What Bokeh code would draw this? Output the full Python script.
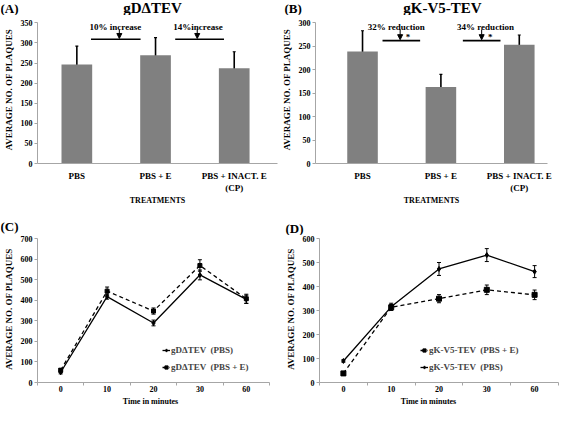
from bokeh.plotting import figure
from bokeh.layouts import column, row
from bokeh.models import (ColumnDataSource, Whisker, TeeHead, Label, Arrow, NormalHead,
                          FixedTicker, Legend, LegendItem, Range1d)
from bokeh.core.properties import value
from bokeh.embed import file_html
from bokeh.resources import INLINE

FONT = "Liberation Serif"
AXIS_GREY = "#a6a6a6"
BAR_GREY = "#808080"

# ---------------- data ----------------
treatments = ["PBS", "PBS + E", "PBS + INACT. E\n(CP)"]
a_mean = [246, 269, 237]
a_err = [46, 44, 41]
b_mean = [239, 163, 253]
b_err = [44, 27, 21]

times = ["0", "10", "20", "30", "60"]
c_pbs = [50, 418, 290, 524, 405]
c_pbs_err = [8, 12, 14, 24, 20]
c_pbse = [60, 445, 348, 570, 408]
c_pbse_err = [8, 20, 15, 28, 22]

d_pbs = [90, 316, 474, 532, 463]
d_pbs_err = [5, 15, 27, 27, 25]
d_pbse = [38, 314, 350, 387, 366]
d_pbse_err = [5, 12, 17, 20, 20]

# ---------------- layout constants (px) ----------------
W_L, W_R = 278, 282
H_STRIP1, H_ROW1, H_STRIP2, H_ROW2, H_STRIP3 = 15, 192, 28, 159, 12


def txt(p, x, y, text, size, align="center", baseline="middle"):
    p.add_layout(Label(x=x, y=y, text=text, text_font=FONT, text_font_style="bold",
                       text_font_size=size, text_align=align, text_baseline=baseline,
                       text_color="black"))


def strip(h):
    w = W_L + W_R
    p = figure(width=w, height=h, x_range=Range1d(0, w), y_range=Range1d(h, 0),
               min_border=0, min_border_left=0, min_border_right=0, min_border_top=0,
               min_border_bottom=0, x_axis_location=None, y_axis_location=None,
               output_backend="svg", toolbar_location=None)
    p.outline_line_color = None
    p.grid.visible = False
    p.background_fill_color = "white"
    p.border_fill_color = "white"
    return p


def make_fig(w, h, left, right, bottom, xr, ymax, gap_top):
    fh = h - bottom
    ytop = ymax + gap_top * ymax / (fh - gap_top)
    p = figure(width=w, height=h, x_range=Range1d(*xr), y_range=Range1d(0, ytop),
               min_border_left=left, min_border_right=right,
               min_border_top=0, min_border_bottom=bottom,
               output_backend="svg", toolbar_location=None)
    p.grid.visible = False
    p.outline_line_color = None
    p.background_fill_color = "white"
    p.border_fill_color = "white"
    for ax in p.axis:
        ax.axis_line_color = AXIS_GREY
        ax.major_tick_line_color = AXIS_GREY
        ax.minor_tick_line_color = None
        ax.major_label_text_font = FONT
        ax.major_label_text_font_style = "bold"
        ax.major_label_text_font_size = "8px"
        ax.major_label_text_color = "black"
        ax.axis_label_text_font = FONT
        ax.axis_label_text_font_style = "bold"
        ax.axis_label_text_font_size = "9px"
        ax.axis_label_text_color = "black"
    p.yaxis.bounds = (0, ymax)
    p.yaxis.major_tick_out = 3
    p.yaxis.major_tick_in = 0
    p.yaxis.major_label_standoff = 2
    p.yaxis.axis_label_standoff = 4
    p.yaxis.axis_label = "AVERAGE NO. OF PLAQUES"
    return p


def bracket(p, x0, x1, y, ax, ay0, ay1, label, tx, ty, star=None):
    p.add_layout(Arrow(end=None, x_start=x0, y_start=y, x_end=x1, y_end=y,
                       line_color="black", line_width=1.6))
    p.add_layout(Arrow(end=NormalHead(size=5, fill_color="black", line_color="black"),
                       x_start=ax, y_start=ay0, x_end=ax, y_end=ay1,
                       line_color="black", line_width=1))
    txt(p, tx, ty, label, "9px", baseline="alphabetic")
    if star is not None:
        txt(p, star[0], star[1], "*", "9px")


def bar_panel(w, left, right, xr, ymax, means, errs):
    p = make_fig(w, H_ROW1, left, right, 42, xr, ymax, 7.4)
    idx = list(range(len(treatments)))
    src = ColumnDataSource(dict(x=idx, top=means,
                                lo=[m - e for m, e in zip(means, errs)],
                                hi=[m + e for m, e in zip(means, errs)]))
    p.vbar(x="x", top="top", width=0.39, source=src, fill_color=BAR_GREY, line_color=None)
    p.add_layout(Whisker(base="x", upper="hi", lower="lo", source=src, line_color="black",
                         line_width=1.6,
                         upper_head=TeeHead(size=3, line_color="black", line_width=1.2),
                         lower_head=TeeHead(size=3, line_color="black", line_width=1.2)))
    p.xaxis.ticker = FixedTicker(ticks=idx)
    p.xaxis.major_label_overrides = {i: t for i, t in zip(idx, treatments)}
    p.xaxis.major_tick_line_color = None
    p.xaxis.major_tick_out = 0
    p.xaxis.major_tick_in = 0
    p.xaxis.major_label_standoff = 7
    p.xaxis.major_label_text_font_size = "9px"
    p.xaxis.axis_label = "TREATMENTS"
    p.xaxis.axis_label_standoff = 0
    p.xaxis.axis_label_text_font_size = "8px"
    p.yaxis.ticker = FixedTicker(ticks=list(range(0, ymax + 1, 50)))
    return p


# ---------------- titles strip ----------------
s1 = strip(H_STRIP1)
txt(s1, 0, 7.5, "(A)", "13px", align="left")
txt(s1, 152, 7.5, "gD\u0394TEV", "15px")
txt(s1, W_L + 6, 7.5, "(B)", "13px", align="left")
txt(s1, 442, 7.5, "gK-V5-TEV", "15px")

# ---------------- panel A ----------------
pA = bar_panel(W_L, 36, 1, (-0.5, 2.55), 350, a_mean, a_err)
bracket(pA, 0.18, 0.81, 309, 0.54, 334, 311, "10% increase", 0.49, 340)
bracket(pA, 1.25, 1.87, 309, 1.53, 334, 311, "14%increase", 1.54, 340)

# ---------------- panel B ----------------
pB = bar_panel(W_R, 37, 13, (-0.6, 2.36), 300, b_mean, b_err)
bracket(pB, 0.255, 0.735, 262, 0.48, 286, 264, "32% reduction", 0.43, 290,
        star=(0.58, 270))
bracket(pB, 1.28, 1.76, 262, 1.52, 286, 264, "34% reduction", 1.57, 290,
        star=(1.63, 270))

# ---------------- letters strip ----------------
s2 = strip(H_STRIP2)
txt(s2, 0, 19, "(C)", "13px", align="left")
txt(s2, W_L + 7, 21, "(D)", "13px", align="left")


# ---------------- line panels ----------------
def series(p, vals, errs, dash, marker, msize):
    idx = list(range(len(times)))
    src = ColumnDataSource(dict(x=idx, y=vals,
                                lo=[v - e for v, e in zip(vals, errs)],
                                hi=[v + e for v, e in zip(vals, errs)]))
    rl = p.line("x", "y", source=src, line_color="black", line_width=1.3, line_dash=dash)
    rs = p.scatter("x", "y", source=src, marker=marker, size=msize,
                   fill_color="black", line_color="black")
    p.add_layout(Whisker(base="x", upper="hi", lower="lo", source=src, line_color="black",
                         line_width=1,
                         upper_head=TeeHead(size=4, line_color="black", line_width=1),
                         lower_head=TeeHead(size=4, line_color="black", line_width=1)))
    return [rl, rs]


def line_panel(w, left, right, ymax):
    p = make_fig(w, H_ROW2, left, right, 12, (-0.5, len(times) - 0.5), ymax, 3.3)
    idx = list(range(len(times)))
    p.xaxis.ticker = FixedTicker(ticks=idx,
                                 minor_ticks=[i - 0.5 for i in range(len(times) + 1)])
    p.xaxis.major_label_overrides = {i: t for i, t in zip(idx, times)}
    p.xaxis.major_tick_line_color = None
    p.xaxis.major_tick_out = 0
    p.xaxis.major_tick_in = 0
    p.xaxis.minor_tick_line_color = AXIS_GREY
    p.xaxis.minor_tick_out = 3
    p.xaxis.minor_tick_in = 0
    p.xaxis.major_label_standoff = 0
    p.yaxis.ticker = FixedTicker(ticks=list(range(0, ymax + 1, 100)))
    return p


def add_legend(p, items, loc):
    lg = Legend(items=[LegendItem(label=value(t), renderers=r) for t, r in items],
                location=loc)
    lg.background_fill_alpha = 0
    lg.border_line_color = None
    lg.label_text_font = FONT
    lg.label_text_font_style = "bold"
    lg.label_text_font_size = "9px"
    lg.glyph_width = 8
    lg.glyph_height = 10
    lg.label_height = 10
    lg.spacing = 7
    lg.padding = 0
    lg.margin = 0
    lg.label_standoff = 1
    p.add_layout(lg)


pC = line_panel(W_L, 31, 9, 700)
rc1 = series(pC, c_pbs, c_pbs_err, "solid", "diamond", 5)
rc2 = series(pC, c_pbse, c_pbse_err, "4 3", "square", 4)
add_legend(pC, [("gD\u0394TEV  (PBS)", rc1), ("gD\u0394TEV  (PBS + E)", rc2)], (125, 10))

pD = line_panel(W_R, 41, 2, 600)
rd1 = series(pD, d_pbs, d_pbs_err, "solid", "diamond", 5)
rd2 = series(pD, d_pbse, d_pbse_err, "4 3", "square", 5)
add_legend(pD, [("gK-V5-TEV  (PBS + E)", rd2), ("gK-V5-TEV  (PBS)", rd1)], (101, 10))

# ---------------- x-axis titles strip ----------------
s3 = strip(H_STRIP3)
txt(s3, 150, 6.5, "Time in minutes", "8px")
txt(s3, 428, 6.5, "Time in minutes", "8px")

layout = column(s1, row(pA, pB), s2, row(pC, pD), s3)

open("out.html", "w").write(file_html(layout, INLINE))
